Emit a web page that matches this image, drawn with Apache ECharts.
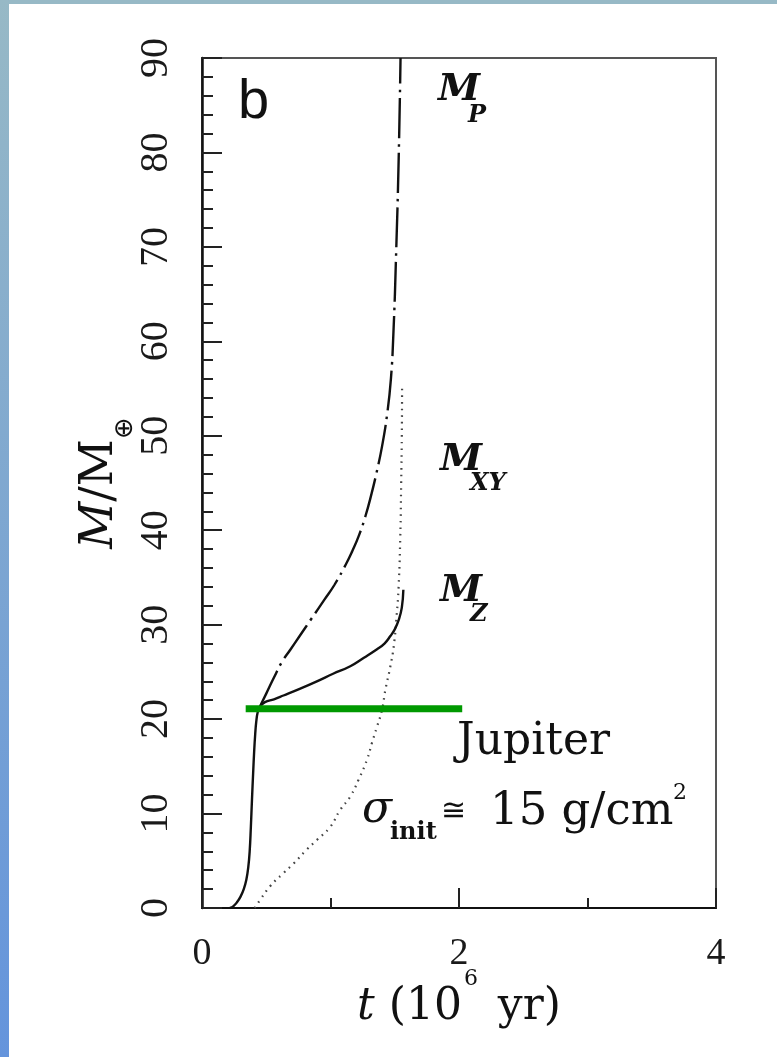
<!DOCTYPE html>
<html><head><meta charset="utf-8">
<script src="https://cdn.jsdelivr.net/npm/echarts@6/dist/echarts.min.js"></script>
<style>html,body{margin:0;padding:0;background:#fff}#c{width:777px;height:1057px}</style>
</head><body><div id="c"></div>
<script>
// Axis ranges / ticks
const xTicks = [0, 2, 4];
const yTicks = [0, 10, 20, 30, 40, 50, 60, 70, 80, 90];

// M_Z (solid)
const tZ = [0.218, 0.245, 0.272, 0.300, 0.325, 0.345, 0.360, 0.371, 0.380, 0.389, 0.398, 0.406, 0.414, 0.422, 0.433, 0.450, 0.49, 0.56, 0.634, 0.76, 0.894, 1.02, 1.154, 1.26, 1.362, 1.42, 1.466, 1.50, 1.531, 1.555, 1.567];
const mZ = [0, 0.2, 0.6, 1.2, 2.0, 3.0, 4.3, 6.0, 8.5, 11.5, 14.3, 16.6, 18.4, 19.7, 20.7, 21.3, 21.8, 22.1, 22.5, 23.2, 24.0, 24.8, 25.6, 26.5, 27.4, 28.0, 28.8, 29.5, 30.5, 31.8, 33.7];

// M_P (dash-dot)
const tP = [0.45, 0.50, 0.56, 0.62, 0.69, 0.76, 0.85, 0.95, 1.03, 1.12, 1.17, 1.22, 1.27, 1.32, 1.36, 1.40, 1.44, 1.47, 1.49, 1.51, 1.53, 1.545];
const mP = [21.3, 22.7, 24.4, 26.0, 27.4, 28.8, 30.6, 32.6, 34.2, 36.4, 37.8, 39.4, 41.4, 43.9, 46.2, 48.8, 52.2, 56.0, 61.0, 69.0, 79.0, 90.0];

// M_XY (dotted)
const tX = [0.41, 0.452, 0.53, 0.634, 0.712, 0.816, 0.894, 0.998, 1.076, 1.154, 1.219, 1.284, 1.323, 1.362, 1.401, 1.427, 1.466, 1.492, 1.515, 1.53, 1.543, 1.55, 1.555, 1.557];
const mX = [0, 0.85, 2.3, 3.7, 4.7, 6.2, 7.2, 8.6, 10.4, 11.8, 13.6, 15.7, 17.5, 19.2, 21.0, 23.1, 25.6, 27.7, 31, 34, 39.3, 45, 50, 55];

// Jupiter marker line
const tJup = [0.34, 2.025];
const mJup = [21.1, 21.1];

const zip = (a, b) => a.map((v, i) => [v, b[i]]);

const SERIF = 'DejaVu Serif';
function txt(text, x, base, size, extra) {
  return {type: 'text', x: x, y: base - 0.32 * size, silent: true, z: 100,
    style: Object.assign({text: text, fontSize: size, fontFamily: SERIF, fill: '#111',
      align: 'left', verticalAlign: 'middle'}, extra || {})};
}

const chart = echarts.init(document.getElementById('c'), null, {renderer: 'canvas'});
const tickLine = {color: '#222', width: 2};
chart.setOption({
  animation: false,
  backgroundColor: '#fff',
  grid: {left: 202, right: 61, top: 58, bottom: 149, show: true, borderColor: '#555', borderWidth: 2, backgroundColor: 'transparent'},
  xAxis: {
    type: 'value', min: xTicks[0], max: xTicks[xTicks.length - 1], interval: xTicks[1] - xTicks[0],
    axisLine: {onZero: false, lineStyle: {color: '#111', width: 2}},
    axisTick: {inside: true, length: 20, lineStyle: tickLine},
    minorTick: {show: true, splitNumber: 2, length: 10, lineStyle: tickLine},
    splitLine: {show: false}, minorSplitLine: {show: false},
    axisLabel: {margin: 27, fontFamily: 'Liberation Serif', fontSize: 38, color: '#1a1a1a'}
  },
  yAxis: {
    type: 'value', min: yTicks[0], max: yTicks[yTicks.length - 1], interval: yTicks[1] - yTicks[0],
    axisLine: {onZero: false, lineStyle: {color: '#111', width: 2.5}},
    axisTick: {inside: true, length: 20, lineStyle: tickLine},
    minorTick: {show: true, splitNumber: 5, length: 11, lineStyle: tickLine},
    splitLine: {show: false}, minorSplitLine: {show: false},
    axisLabel: {rotate: 90, margin: 26, fontFamily: 'Liberation Serif', fontSize: 40, color: '#1a1a1a'}
  },
  series: [
    {name: 'M_XY', type: 'line', data: zip(tX, mX), symbol: 'none', smooth: 0.5,
      lineStyle: {color: '#444', width: 2.2, type: [1.6, 5]}, z: 2},
    {name: 'M_Z', type: 'line', data: zip(tZ, mZ), symbol: 'none', smooth: 0.45,
      lineStyle: {color: '#111', width: 2.4, type: 'solid'}, z: 3},
    {name: 'M_P', type: 'line', data: zip(tP, mP), symbol: 'none', smooth: 0.5,
      lineStyle: {color: '#111', width: 2.4, type: [40, 6, 2.5, 6]}, z: 3},
    {name: 'Jupiter', type: 'line', data: zip(tJup, mJup), symbol: 'none',
      lineStyle: {color: '#009900', width: 7}, z: 5}
  ],
  graphic: [
    {type: 'rect', silent: true, z: -10, shape: {x: 0, y: 0, width: 777, height: 4}, style: {fill: '#97b9c6'}},
    {type: 'rect', silent: true, z: -10, shape: {x: 0, y: 0, width: 9, height: 1057},
      style: {fill: new echarts.graphic.LinearGradient(0, 0, 0, 1, [{offset: 0, color: '#97b9c6'}, {offset: 1, color: '#6494dc'}])}},
    txt('b', 238, 120, 56, {fontFamily: 'Liberation Sans'}),
    txt('M', 438, 102, 38, {fontStyle: 'italic', fontWeight: 'bold'}),
    txt('P', 468, 123, 24, {fontStyle: 'italic', fontWeight: 'bold'}),
    txt('M', 440, 472, 38, {fontStyle: 'italic', fontWeight: 'bold'}),
    txt('XY', 470, 491, 24, {fontStyle: 'italic', fontWeight: 'bold'}),
    txt('M', 440, 603, 38, {fontStyle: 'italic', fontWeight: 'bold'}),
    txt('Z', 470, 622, 24, {fontStyle: 'italic', fontWeight: 'bold'}),
    txt('Jupiter', 457, 757, 44),
    txt('σ', 362, 825, 44, {fontStyle: 'italic'}),
    txt('init', 390, 840, 24, {fontWeight: 'bold'}),
    txt('≅', 441, 822, 30, {fontFamily: 'DejaVu Sans'}),
    txt('15 g/cm', 490, 827, 45),
    txt('2', 673, 800, 22),
    {type: 'text', x: 459, y: 1008, silent: true, z: 100,
      style: {text: '{i|t}{r| (10}{s|6}{r| yr)}', align: 'center', verticalAlign: 'middle',
        rich: {
          i: {fontFamily: SERIF, fontStyle: 'italic', fontSize: 44, lineHeight: 80, fill: '#111'},
          r: {fontFamily: SERIF, fontSize: 44, lineHeight: 80, fill: '#111'},
          s: {fontFamily: SERIF, fontSize: 22, lineHeight: 22, verticalAlign: 'top', padding: [0, 6, 0, 2], fill: '#111'}
        }}},
    {type: 'text', x: 100, y: 483, rotation: Math.PI / 2, silent: true, z: 100,
      style: {text: '{i|M}{r|/M}{s|⊕}', align: 'center', verticalAlign: 'middle',
        rich: {
          i: {fontFamily: SERIF, fontStyle: 'italic', fontSize: 46, lineHeight: 76, fill: '#111'},
          r: {fontFamily: SERIF, fontSize: 46, lineHeight: 76, fill: '#111'},
          s: {fontFamily: 'DejaVu Sans', fontSize: 26, lineHeight: 26, verticalAlign: 'bottom', fill: '#111'}
        }}}
  ]
});
</script></body></html>
